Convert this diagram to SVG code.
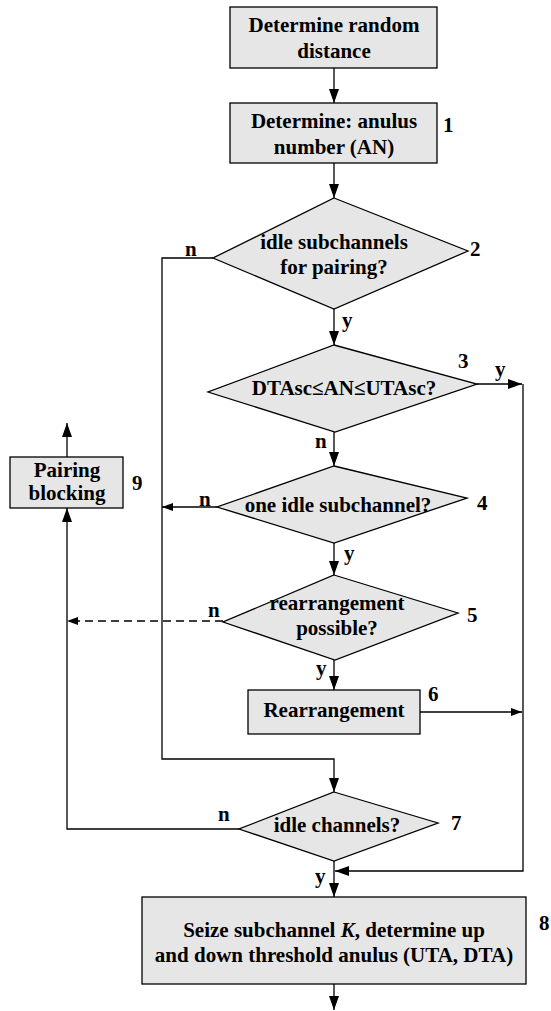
<svg xmlns="http://www.w3.org/2000/svg" width="551" height="1011" viewBox="0 0 551 1011">
<defs>
<style>
.node{fill:#e6e6e6;stroke:#000;stroke-width:1.3}
text{font-family:"Liberation Serif","Times New Roman",serif;font-weight:bold;font-size:21px;fill:#000}
.c{text-anchor:middle}
.ln{fill:none;stroke:#000;stroke-width:1.3}
.dash{stroke-dasharray:8,5}
</style>
<marker id="ah" markerUnits="userSpaceOnUse" markerWidth="14" markerHeight="10" refX="14" refY="5" orient="auto"><path d="M0,0 L14,5 L0,10 Z" fill="#000"/></marker>
<marker id="as" markerUnits="userSpaceOnUse" markerWidth="11" markerHeight="8" refX="11" refY="4" orient="auto"><path d="M0,0 L11,4 L0,8 Z" fill="#000"/></marker>
</defs>
<rect width="551" height="1011" fill="#fff"/>
<g id="connectors">
<path class="ln" d="M334,68 V103" marker-end="url(#ah)"/>
<path class="ln" d="M334,163 V198" marker-end="url(#ah)"/>
<path class="ln" d="M213,258 H162 V759 H334 V792" marker-end="url(#ah)"/>
<path class="ln" d="M334,309 V345" marker-end="url(#ah)"/>
<path class="ln" d="M477,384 H522" marker-end="url(#ah)"/>
<path class="ln" d="M523,384 V871 H335" marker-end="url(#ah)"/>
<path class="ln" d="M334,432 V466" marker-end="url(#ah)"/>
<path class="ln" d="M217,507 H162" marker-end="url(#as)"/>
<path class="ln" d="M334,543 V575" marker-end="url(#ah)"/>
<path class="ln dash" d="M223,621 H67" marker-end="url(#as)"/>
<path class="ln" d="M334,660 V690" marker-end="url(#ah)"/>
<path class="ln" d="M420,712 H522" marker-end="url(#as)"/>
<path class="ln" d="M239,829 H67 V508" marker-end="url(#ah)"/>
<path class="ln" d="M67,457 V423" marker-end="url(#ah)"/>
<path class="ln" d="M334,861 V897" marker-end="url(#ah)"/>
<path class="ln" d="M334,984 V1010" marker-end="url(#ah)"/>
<text x="185" y="256">n</text>
<text x="342" y="327">y</text>
<text x="495" y="376">y</text>
<text x="315" y="448">n</text>
<text x="199" y="506">n</text>
<text x="344" y="560">y</text>
<text x="208" y="617">n</text>
<text x="316" y="675">y</text>
<text x="218" y="821">n</text>
<text x="315" y="883">y</text>
</g>
<g id="n0">
<rect class="node" x="230" y="7" width="207" height="61"/>
<text class="c" x="334" y="32">Determine random</text>
<text class="c" x="334" y="58">distance</text>
</g>
<g id="n1">
<rect class="node" x="230" y="103" width="207" height="60"/>
<text class="c" x="334" y="128">Determine: anulus</text>
<text class="c" x="334" y="154">number (AN)</text>
<text x="443" y="132">1</text>
</g>
<g id="n2">
<polygon class="node" points="334,198 468,251 334,309 213,258"/>
<text class="c" x="334" y="249">idle subchannels</text>
<text class="c" x="334" y="274">for pairing?</text>
<text x="470" y="256">2</text>
</g>
<g id="n3">
<polygon class="node" points="334,345 477,384 335,432 208,392"/>
<text class="c" x="344" y="395">DTAsc≤AN≤UTAsc?</text>
<text x="458" y="368">3</text>
</g>
<g id="n4">
<polygon class="node" points="334,466 467,498 334,543 217,507"/>
<text class="c" x="338" y="512">one idle subchannel?</text>
<text x="477" y="510">4</text>
</g>
<g id="n5">
<polygon class="node" points="334,575 458,613 335,660 223,622"/>
<text class="c" x="337" y="610">rearrangement</text>
<text class="c" x="337" y="635">possible?</text>
<text x="467" y="622">5</text>
</g>
<g id="n6">
<rect class="node" x="248" y="690" width="172" height="44"/>
<text class="c" x="334" y="717">Rearrangement</text>
<text x="428" y="701">6</text>
</g>
<g id="n7">
<polygon class="node" points="334,792 438,823 334,861 239,829"/>
<text class="c" x="337" y="832">idle channels?</text>
<text x="451" y="830">7</text>
</g>
<g id="n8">
<rect class="node" x="142" y="897" width="384" height="87"/>
<text class="c" x="334" y="937">Seize subchannel <tspan font-style="italic">K</tspan>, determine up</text>
<text class="c" x="334" y="962">and down threshold anulus (UTA, DTA)</text>
<text x="539" y="930">8</text>
</g>
<g id="n9">
<rect class="node" x="10" y="457" width="113" height="51"/>
<text class="c" x="67" y="477">Pairing</text>
<text class="c" x="67" y="500">blocking</text>
<text x="132" y="490">9</text>
</g>
</svg>
